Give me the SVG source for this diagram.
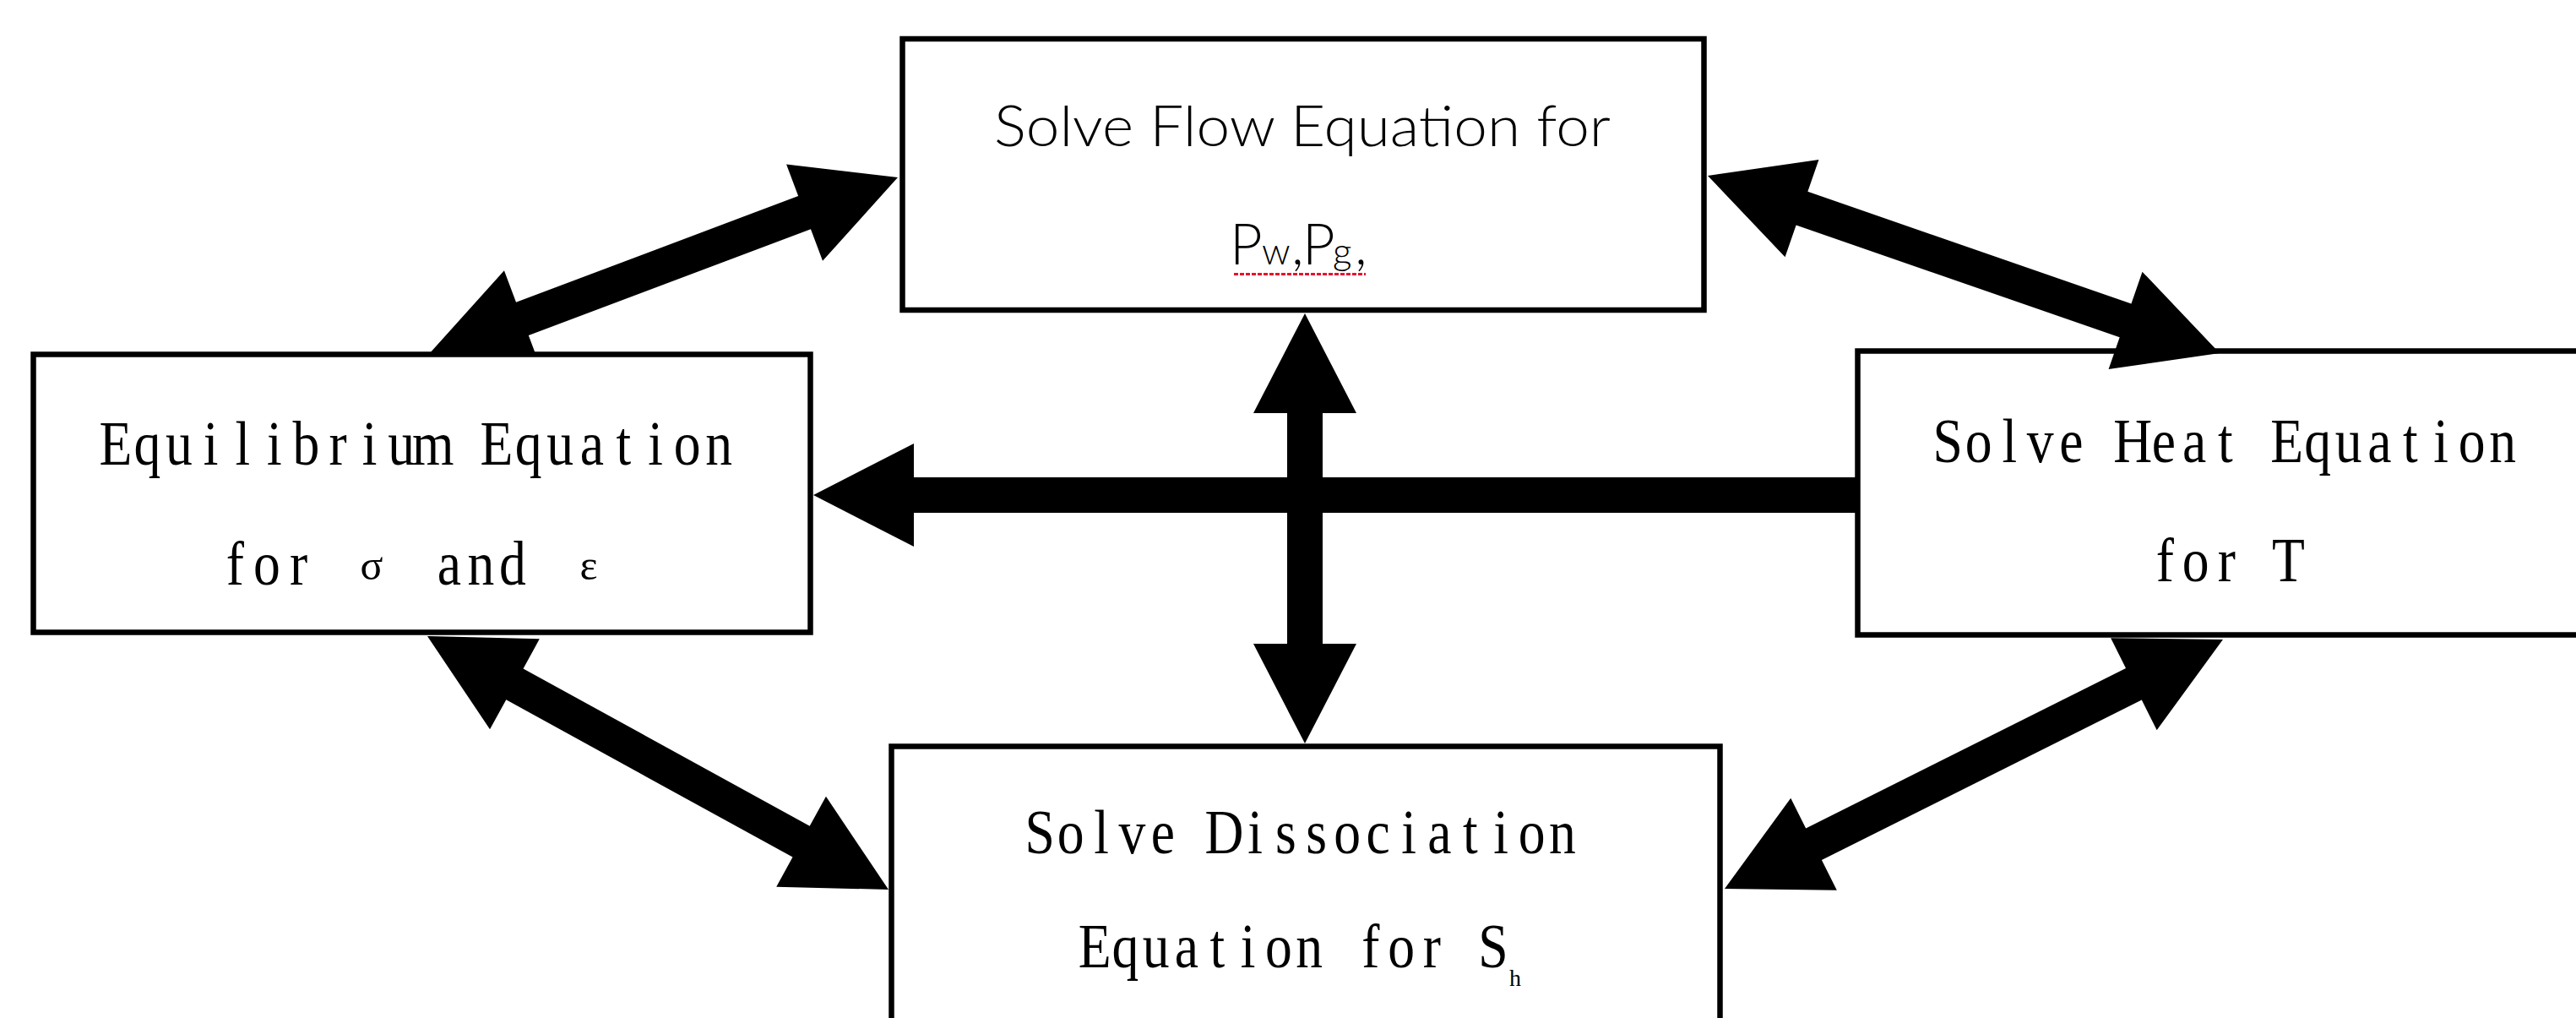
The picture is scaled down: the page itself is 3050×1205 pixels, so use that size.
<svg xmlns="http://www.w3.org/2000/svg" width="3050" height="1205" viewBox="0 0 3050 1205">
<style>
.box{fill:#fff;stroke:#000;stroke-width:6.5}
.arrow{fill:#000;stroke:none}
.mono{font-family:"Liberation Serif",serif;font-size:74px;fill:#000;text-anchor:middle}
.greek{font-family:"Liberation Serif",serif;font-size:50px;fill:#000;text-anchor:middle}
.sans{font-family:Lato,"Liberation Sans",sans-serif;font-weight:300;font-size:67px;fill:#000}
.sub{font-size:44px}
</style>
<rect x="0" y="0" width="3050" height="1205" fill="#fff"/>
<g id="node-heat">
<rect class="box" x="2199.5" y="415.5" width="1000" height="336"/>
<text class="mono" transform="scale(0.86,1)" y="547" x="2681.7 2724.1 2766.6 2809.0 2851.5 2893.9 2936.3 2978.8 3021.2 3063.7 3106.1 3148.5 3191.0 3233.4 3275.9 3318.3 3360.7 3403.2 3445.6">Solve Heat Equation</text>
<text class="mono" transform="scale(0.86,1)" y="688" x="2980.6 3023.0 3065.5 3107.9 3150.4">for T</text>
</g>
<g id="connectors">
<polygon class="arrow" transform="translate(508,419) rotate(-20.63)" points="0,0 118,-61 118,-21 475,-21 475,-61 593,0 475,61 475,21 118,21 118,61"/>
<polygon class="arrow" transform="translate(2022,208) rotate(19.11)" points="0,0 118,-61 118,-21 523.4,-21 523.4,-61 641.4,0 523.4,61 523.4,21 118,21 118,61"/>
<polygon class="arrow" transform="translate(506,753) rotate(28.79)" points="0,0 118,-61 118,-21 505,-21 505,-61 623,0 505,61 505,21 118,21 118,61"/>
<polygon class="arrow" transform="translate(2042,1052) rotate(-26.57)" points="0,0 118,-61 118,-21 541.6,-21 541.6,-61 659.6,0 541.6,61 541.6,21 118,21 118,61"/>
<polygon class="arrow" points="1545,371 1606,489 1566,489 1566,762 1606,762 1545,880 1484,762 1524,762 1524,489 1484,489"/>
<polygon class="arrow" points="963,586 1082,525 1082,565 2200,565 2200,607 1082,607 1082,647"/>
</g>
<g id="node-equilibrium">
<rect class="box" x="39.5" y="419.5" width="920" height="329"/>
<text class="mono" transform="scale(0.86,1)" y="550" x="159.1 202.8 246.5 290.2 334.0 377.7 421.4 465.1 508.8 552.6 596.3 640.0 683.7 727.4 771.2 814.9 858.6 902.3 946.0 989.8">Equilibrium Equation</text>
<text class="mono" transform="scale(0.86,1)" y="692"><tspan x="323.7 367.4 411.2">for</tspan><tspan x="618.6 662.2 705.8">and</tspan></text>
<text class="greek" x="440" y="686">σ</text>
<text class="greek" x="697" y="686">ε</text>
</g>
<g id="node-flow">
<rect class="box" x="1068.5" y="46" width="949" height="321"/>
<text class="sans" x="1177" y="173" textLength="730" lengthAdjust="spacingAndGlyphs">Solve Flow Equation for</text>
<text class="sans" y="313"><tspan x="1456">P</tspan><tspan class="sub" x="1494">w</tspan><tspan x="1529">,</tspan><tspan x="1542">P</tspan><tspan class="sub" x="1578">g</tspan><tspan x="1604">,</tspan></text>
<line x1="1461" y1="324.5" x2="1617" y2="324.5" stroke="#e8112d" stroke-width="3" stroke-dasharray="5 2"/>
</g>
<g id="node-dissociation">
<rect class="box" x="1055.5" y="883.5" width="981" height="400"/>
<text class="mono" transform="scale(0.86,1)" y="1010" x="1431.6 1473.9 1516.3 1558.6 1600.9 1643.2 1685.6 1727.9 1770.2 1812.5 1854.9 1897.2 1939.5 1981.8 2024.2 2066.5 2108.8 2151.1">Solve Dissociation</text>
<text class="mono" transform="scale(0.86,1)" y="1145" x="1507.1 1549.3 1591.5 1633.7 1675.9 1718.1 1760.4 1802.6 1844.8 1887.0 1929.2 1971.4 2013.6 2055.8">Equation for S</text>
<text class="greek" x="1794" y="1167" style="font-size:28px">h</text>
</g>
</svg>
